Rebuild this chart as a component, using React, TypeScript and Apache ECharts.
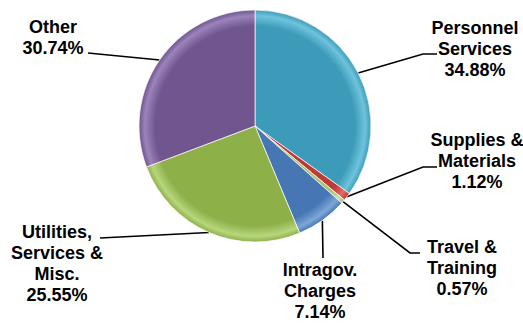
import React, { useEffect, useRef } from "react";
import * as echarts from "echarts";

const categories = [
  "Personnel\nServices",
  "Supplies &\nMaterials",
  "Travel &\nTraining",
  "Intragov.\nCharges",
  "Utilities,\nServices &\nMisc.",
  "Other",
];
const values = [34.88, 1.12, 0.57, 7.14, 25.55, 30.74];
const colors = ["#3C9BB8", "#BE3A36", "#A9C26E", "#4677B4", "#8DB049", "#70558F"];
const rimColors = ["#6FC3DC", "#E06B68", "#CFE0A6", "#7EA6D8", "#B8D67C", "#9C83BA"];

// label layout (text block top-centre) and leader-line bend points
const labelAnchor: [number, number][] = [
  [475, 17],
  [477, 129],
  [462, 236],
  [320, 259],
  [57, 221],
  [53, 16],
];
const leaderPoints: [number, number][][] = [
  [[423, 54], [437, 54]],
  [[423, 167], [437, 167]],
  [[410, 253], [420, 253]],
  [[323, 258]],
  [[100, 238]],
  [[88, 53]],
];

const CX = 255;
const CY = 126;
const R = 116;

export default function App() {
  const ref = useRef<HTMLDivElement>(null);
  useEffect(() => {
    if (!ref.current) return;
    const chart = echarts.init(ref.current, null, { renderer: "svg" });
    const data = categories.map((name, i) => ({
      name,
      value: values[i],
      itemStyle: {
        color: {
          type: "radial",
          x: CX,
          y: CY,
          r: R,
          global: true,
          colorStops: [
            { offset: 0, color: colors[i] },
            { offset: 0.86, color: colors[i] },
            { offset: 0.95, color: rimColors[i] },
            { offset: 1, color: colors[i] },
          ],
        },
      },
    }));
    chart.setOption({
      animation: false,
      backgroundColor: "#ffffff",
      series: [
        {
          type: "pie",
          center: [CX, CY],
          radius: R,
          startAngle: 90,
          clockwise: true,
          avoidLabelOverlap: false,
          data,
          itemStyle: { borderColor: "rgba(255,255,255,0.7)", borderWidth: 1 },
          label: {
            show: true,
            position: "outside",
            formatter: (p: any) => `${p.name}\n${p.value.toFixed(2)}%`,
            fontFamily: "Liberation Sans, Arial, sans-serif",
            fontWeight: "bold",
            fontSize: 18,
            lineHeight: 21,
            color: "#000000",
            align: "center",
          },
          labelLine: {
            show: true,
            length: 10,
            length2: 10,
            lineStyle: { color: "#000000", width: 1.6 },
          },
          labelLayout: (params: any) => {
            const i = params.dataIndex;
            const start = params.labelLinePoints ? params.labelLinePoints[0] : [CX, CY];
            const pts = [start, ...leaderPoints[i]];
            if (pts.length < 3) pts.push(pts[pts.length - 1]);
            return {
              x: labelAnchor[i][0],
              y: labelAnchor[i][1],
              align: "center",
              verticalAlign: "top",
              labelLinePoints: pts,
            };
          },
          emphasis: { disabled: true },
        },
      ],
    });
    return () => chart.dispose();
  }, []);
  return (
    <div
      ref={ref}
      style={{ position: "fixed", left: 0, top: 0, width: 523, height: 324 }}
    />
  );
}
